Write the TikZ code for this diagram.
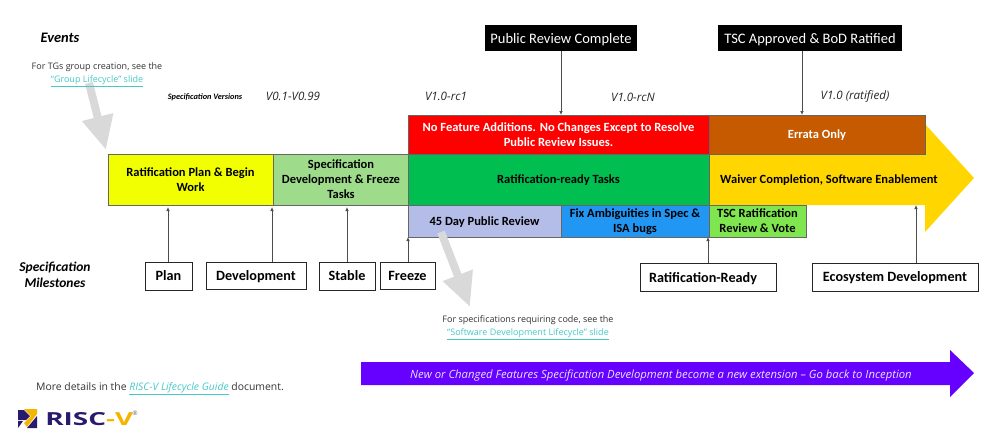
\documentclass[tikz,border=0pt]{standalone}
\usepackage{fontspec}
\setmainfont[Ligatures=TeX]{Carlito}
\newfontfamily\opensans[Ligatures=TeX]{Open Sans}
\usetikzlibrary{arrows.meta}
\definecolor{linkteal}{HTML}{45C8C8}
\definecolor{riscblue}{HTML}{2A1A6E}
\definecolor{riscgold}{HTML}{F5B400}
\definecolor{planyellow}{HTML}{F2FF00}
\definecolor{devgreen}{HTML}{9EDC8C}
\definecolor{errorange}{HTML}{C55A00}
\definecolor{readygreen}{HTML}{00BF50}
\definecolor{waiveryellow}{HTML}{FFD600}
\definecolor{reviewblue}{HTML}{B4BCE8}
\definecolor{fixblue}{HTML}{2196F3}
\definecolor{votegreen}{HTML}{7FE650}
\definecolor{backpurple}{HTML}{6600FF}
\definecolor{arrowgrey}{HTML}{D9D9D9}
\newcommand{\fsz}[2]{\fontsize{#1}{#2}\selectfont}

\begin{document}
\begin{tikzpicture}[
		x=1pt,y=-1pt,
		stagebox/.style={draw=black!60,anchor=north west,align=center,inner sep=0pt,outer sep=0pt,text depth=0pt,font=\fsz{12.5}{15}\bfseries},
		milestone/.style={draw=black!85,fill=white,anchor=north west,inner sep=0pt,outer sep=0pt,line width=0.8pt,text depth=0pt,font=\fsz{14.2}{16}\bfseries},
		eventbox/.style={fill=black,text=white,anchor=north west,inner sep=0pt,outer sep=0pt,text depth=0pt,font=\fsz{14.5}{16}},
		version/.style={font=\opensans\fsz{11.6}{13}\itshape,text=black!85},
		note/.style={font=\opensans\fsz{9}{13},align=center,text=black!80},
		uparrow/.style={-{Latex[length=4pt,width=3.5pt]},line width=0.7pt,draw=black!70},
		bigarrow/.style={-{Triangle[length=34pt,width=30pt]},line width=8pt,draw=arrowgrey}
		]
		\useasboundingbox (0,0) rectangle (1000,440);

		% long yellow arrow goes under the boxes
		\fill[fill=waiveryellow] (709,154) -- (925,154) -- (925,124) -- (974,178) -- (925,232) -- (925,205) -- (709,205) -- cycle;

		\node[stagebox,fill=planyellow,minimum width=165pt,minimum height=51pt](Plan) at (108,154){Ratification Plan \& Begin\\Work};
		\node[stagebox,fill=devgreen,minimum width=136pt,minimum height=51pt](Dev) at (273,154){Specification\\Development \& Freeze\\Tasks};
		\node[stagebox,fill=red,text=white,minimum width=301pt,minimum height=39pt](Red) at (408,115){No Feature Additions. No Changes Except to Resolve\\Public Review Issues.};
		\node[stagebox,fill=errorange,text=white,minimum width=216pt,minimum height=39pt](Errata) at (709,115){Errata Only};
		\node[stagebox,fill=readygreen,minimum width=301pt,minimum height=51pt](Ready) at (408,154){Ratification-ready Tasks};
		\node[font=\fsz{12.5}{15}\bfseries,text depth=0pt](Waiver) at (829,179){Waiver Completion, Software Enablement};
		\node[stagebox,fill=reviewblue,minimum width=153pt,minimum height=32pt](Review) at (408,205){45 Day Public Review};
		\node[stagebox,fill=fixblue,minimum width=148pt,minimum height=32pt](Fix) at (561,205){Fix Ambiguities in Spec \&\\ISA bugs};
		\node[stagebox,fill=votegreen,minimum width=97pt,minimum height=32pt](Vote) at (709,205){TSC Ratification\\Review \& Vote};

		% events on top
		\node[eventbox,minimum width=152pt,minimum height=26pt](Complete) at (485,25){Public Review Complete};
		\node[eventbox,minimum width=184pt,minimum height=26pt](Ratified) at (718,25){TSC Approved \& BoD Ratified};
		\draw[uparrow] (Complete.south) -- (Complete.south |- Red.north);
		\coordinate (RatifiedTip) at (802,115);
		\draw[uparrow] (RatifiedTip |- Ratified.south) -- (RatifiedTip);

		% milestones
		\node[milestone,minimum width=47pt,minimum height=28pt](MPlan) at (145,262){Plan};
		\node[milestone,minimum width=100pt,minimum height=27pt](MDev) at (206,262){Development};
		\node[milestone,minimum width=56pt,minimum height=28pt](MStable) at (319,262){Stable};
		\node[milestone,minimum width=55pt,minimum height=27pt](MFreeze) at (380,262){Freeze};
		\node[milestone,minimum width=136pt,minimum height=28pt](MReady) at (640,263){Ratification-Ready\kern10pt};
		\node[milestone,minimum width=166pt,minimum height=28pt](MEco) at (812,263){Ecosystem Development};

		\coordinate (PlanTip) at (168,207);
		\coordinate (DevTip) at (272,207);
		\coordinate (StableTip) at (347,207);
		\coordinate (FreezeTip) at (408,237);
		\coordinate (ReadyTip) at (708,237);
		\coordinate (EcoTip) at (916,205);
		\draw[uparrow] (PlanTip |- MPlan.north) -- (PlanTip);
		\draw[uparrow] (DevTip |- MDev.north) -- (DevTip);
		\draw[uparrow] (StableTip |- MStable.north) -- (StableTip);
		\draw[uparrow] (FreezeTip |- MFreeze.north) -- (FreezeTip);
		\draw[uparrow] (ReadyTip |- MReady.north) -- (ReadyTip);
		\draw[uparrow] (EcoTip |- MEco.north) -- (EcoTip);

		% labels
		\node[font=\fsz{14.5}{16}\bfseries\itshape](Events) at (60,38){Events};
		\node[font=\fsz{13.5}{16}\bfseries\itshape,align=center](Milestones) at (55,275){Specification\\Milestones};
		\node[font=\fsz{8.3}{10}\bfseries\itshape](Versions) at (205,97){Specification Versions};
		\node[version](V0) at (293,96){V0.1-V0.99};
		\node[version](V1) at (446,96){V1.0-rc1};
		\node[version](VN) at (633,97){V1.0-rcN};
		\node[version](VR) at (855,96){V1.0 (ratified)};

		% notes with the grey arrows
		\coordinate (TGsStart) at (89,83);
		\coordinate (TGsTip) at (106,150);
		\draw[bigarrow] (TGsStart) -- (TGsTip);
		\node[note](TGs) at (97,75){For TGs group creation, see the\\\textcolor{linkteal}{\underline{“Group Lifecycle” slide}}};
		\coordinate (CodeStart) at (441,232);
		\coordinate (CodeTip) at (470,307);
		\draw[bigarrow] (CodeStart) -- (CodeTip);
		\node[note](Code) at (528,328){For specifications requiring code, see the\\\textcolor{linkteal}{\underline{“Software Development Lifecycle” slide}}};

		% purple arrow
		\fill[fill=backpurple] (361,362) -- (950,362) -- (950,350) -- (974,373) -- (950,397) -- (950,385) -- (361,385) -- cycle;
		\node[font=\opensans\fsz{11.3}{13}\itshape,text=white!90!blue](Inception) at (661,376){New or Changed Features Specification Development become a new extension – Go back to Inception};

		\node[note,anchor=west,inner sep=0pt,font=\opensans\fsz{10.4}{13}](Details) at (36,389){More details in the \textcolor{linkteal}{\underline{\itshape RISC-V Lifecycle Guide}} document.};

		% logo
		\fill[riscblue] (18,410) -- (24,410) -- (30,416) -- (26,420) -- (18,420) -- cycle;
		\fill[riscblue] (18,421) -- (23,421) -- (18,428) -- cycle;
		\fill[riscblue] (27,428) -- (37,416) -- (37,428) -- cycle;
		\fill[riscgold] (24,409) -- (37,409) -- (37,414) -- (27,427) -- (24,423) -- (31,416) -- cycle;
		\node[font=\opensans\fsz{18}{18}\bfseries,text=riscblue,anchor=west,inner sep=0pt,xscale=1.55](Logo) at (45,419){RISC\textcolor{riscgold}{-V}};
		\node[font=\opensans\fsz{6}{6},text=black!60,anchor=center,inner sep=0pt](Reg) at (135,413){®};
	\end{tikzpicture}
\end{document}
